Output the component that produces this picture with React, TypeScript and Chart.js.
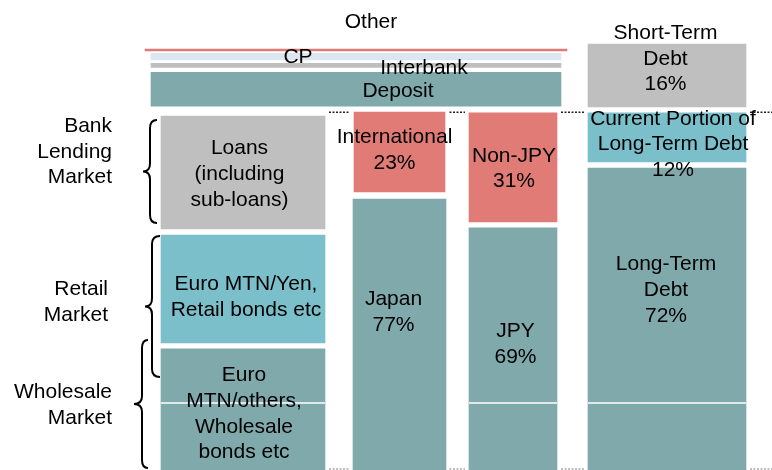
import { useEffect, useRef } from 'react';
import { Chart, registerables } from 'chart.js';

Chart.register(...registerables);

// ---------------- Data (market total = 100) ----------------
const segmentNames = [
  'Wholesale', 'Retail', 'Loans',
  'Deposit', 'Interbank', 'CP', 'Other',
  'Japan', 'International',
  'JPY', 'Non-JPY',
  'Long-Term Debt', 'Current Portion of Long-Term Debt', 'Short-Term Debt',
];
const segmentColumns = [
  'funding', 'funding', 'funding',
  'overlay', 'overlay', 'overlay', 'overlay',
  'region', 'region',
  'currency', 'currency',
  'balance', 'balance', 'balance',
];
const segmentLow = [-1, 35.2, 67.2, 101.7, 112.6, 114.65, 117.2, -1, 77.6, -1, 69.2, -1, 86.0, 101.5];
const segmentHigh = [33.5, 65.5, 98.9, 111.2, 113.7, 116.5, 117.7, 75.6, 100, 67.5, 99.8, 84.3, 99.8, 119.1];
const segmentShares: (number | null)[] = [null, null, null, null, null, null, null, 77, 23, 69, 31, 72, 12, 16];
const segmentText = [
  ['Euro', 'MTN/others,', 'Wholesale', 'bonds etc'],
  ['Euro MTN/Yen,', 'Retail bonds etc'],
  ['Loans', '(including', 'sub-loans)'],
  ['Deposit'],
  ['Interbank'],
  ['CP'],
  ['Other'],
  ['Japan'],
  ['International'],
  ['JPY'],
  ['Non-JPY'],
  ['Long-Term', 'Debt'],
  ['Current Portion of', 'Long-Term Debt'],
  ['Short-Term', 'Debt'],
];

const marketNames = [['Bank', 'Lending', 'Market'], ['Retail', 'Market'], ['Wholesale', 'Market']];
const marketLow = [68.9, 25.6, 0.06];
const marketHigh = [97.8, 65.2, 36.0];

const referenceLevels = [100, -0.2];
const splitLevel = 18.3;

// ---------------- Layout & styles ----------------
const TEAL = '#80a9ac';
const LIGHT_BLUE = '#7bbfcb';
const RED = '#e07b76';
const GREY = '#bfbfbf';
const PALE = '#dce6f1';
const FONT = '21px "Liberation Sans", Arial, sans-serif';
const LINE_H = 25.7;

const COLUMN_LAYOUT: Record<string, { center: number; width: number }> = {
  funding: { center: 243, width: 164 },
  overlay: { center: 356, width: 410 },
  region: { center: 399.5, width: 92 },
  currency: { center: 513, width: 88 },
  balance: { center: 667, width: 158 },
};

const SEGMENT_STYLE: Record<string, { color: string; width?: number; dx: number; dy: number }> = {
  'Wholesale': { color: TEAL, dx: 1, dy: 4.5 },
  'Retail': { color: LIGHT_BLUE, dx: 3, dy: 8 },
  'Loans': { color: GREY, dx: -3.5, dy: 1.5 },
  'Deposit': { color: TEAL, dx: 42, dy: 2 },
  'Interbank': { color: GREY, dx: 68, dy: 3 },
  'CP': { color: PALE, dx: -58, dy: 1 },
  'Other': { color: RED, width: 422, dx: 15, dy: -27.5 },
  'Japan': { color: TEAL, width: 93, dx: -6, dy: -22 },
  'International': { color: RED, width: 91, dx: -5, dy: -2 },
  'JPY': { color: TEAL, dx: 2.5, dy: -4.5 },
  'Non-JPY': { color: RED, dx: 1, dy: 1.5 },
  'Long-Term Debt': { color: TEAL, dx: -1, dy: -29 },
  'Current Portion of Long-Term Debt': { color: LIGHT_BLUE, dx: 6, dy: 7 },
  'Short-Term Debt': { color: GREY, dx: -1.5, dy: -16.5 },
};

const MARKET_LAYOUT = [
  { textRight: 112, dy: -19.5, spine: 150, tip: 143, hook: 157 },
  { textRight: 108, dy: -4.5, spine: 152, tip: 145, hook: 160 },
  { textRight: 112, dy: 1, spine: 142, tip: 134, hook: 148 },
];

// dotted reference lines are visible only in the gaps between the columns
const REF_LINE_COLUMNS = ['funding', 'region', 'currency', 'balance'];
const REF_LINE_END = 772;
const REF_LINE_INSET = 4;
const REF_LINE_COLORS = ['#222', '#aaa'];
const SPLIT_COLUMNS = ['funding', 'currency', 'balance'];

function drawBrace(ctx: CanvasRenderingContext2D, hookX: number, spineX: number, tipX: number, top: number, bottom: number) {
  const mid = (top + bottom) / 2;
  const r = 8;
  ctx.beginPath();
  ctx.moveTo(hookX, top);
  ctx.quadraticCurveTo(spineX, top, spineX, top + r);
  ctx.lineTo(spineX, mid - r);
  ctx.quadraticCurveTo(spineX, mid, tipX, mid);
  ctx.quadraticCurveTo(spineX, mid, spineX, mid + r);
  ctx.lineTo(spineX, bottom - r);
  ctx.quadraticCurveTo(spineX, bottom, hookX, bottom);
  ctx.stroke();
}

const diagramPlugin = {
  id: 'diagram',
  beforeDatasetsDraw(chart: any) {
    const { ctx, scales } = chart;
    const xs = scales.x;
    const ys = scales.y;
    const gaps: [number, number][] = [];
    REF_LINE_COLUMNS.forEach((c, i) => {
      const col = COLUMN_LAYOUT[c];
      const from = col.center + col.width / 2 + REF_LINE_INSET;
      const next = REF_LINE_COLUMNS[i + 1];
      const to = next
        ? COLUMN_LAYOUT[next].center - COLUMN_LAYOUT[next].width / 2 - REF_LINE_INSET
        : REF_LINE_END;
      gaps.push([from, to]);
    });
    ctx.save();
    ctx.lineWidth = 1.5;
    ctx.setLineDash([2, 1.5]);
    referenceLevels.forEach((lvl, i) => {
      const y = ys.getPixelForValue(lvl);
      ctx.strokeStyle = REF_LINE_COLORS[i];
      gaps.forEach(([a, b]) => {
        ctx.beginPath();
        ctx.moveTo(xs.getPixelForValue(a), y);
        ctx.lineTo(xs.getPixelForValue(b), y);
        ctx.stroke();
      });
    });
    ctx.restore();
  },
  afterDatasetsDraw(chart: any) {
    const { ctx, scales, chartArea } = chart;
    const xs = scales.x;
    const ys = scales.y;
    ctx.save();

    // thin white split line
    ctx.strokeStyle = '#ffffff';
    ctx.lineWidth = 1.5;
    const sy = ys.getPixelForValue(splitLevel);
    SPLIT_COLUMNS.forEach((c) => {
      const col = COLUMN_LAYOUT[c];
      ctx.beginPath();
      ctx.moveTo(xs.getPixelForValue(col.center - col.width / 2), sy);
      ctx.lineTo(xs.getPixelForValue(col.center + col.width / 2), sy);
      ctx.stroke();
    });

    // segment labels
    ctx.font = FONT;
    ctx.fillStyle = '#000';
    ctx.textAlign = 'center';
    ctx.textBaseline = 'middle';
    segmentNames.forEach((name, i) => {
      const el = chart.getDatasetMeta(i).data[0];
      if (!el) return;
      const st = SEGMENT_STYLE[name];
      const top = Math.max(Math.min(el.y, el.base), chartArea.top);
      const bottom = Math.min(Math.max(el.y, el.base), chartArea.bottom);
      const cy = (top + bottom) / 2 + st.dy;
      const cx = el.x + st.dx;
      const lines = [...segmentText[i]];
      if (segmentShares[i] !== null) lines.push(`${segmentShares[i]}%`);
      const start = cy - ((lines.length - 1) / 2) * LINE_H;
      lines.forEach((ln, k) => ctx.fillText(ln, cx, start + k * LINE_H));
    });

    // market braces and names
    ctx.strokeStyle = '#000';
    ctx.lineWidth = 2;
    ctx.textAlign = 'right';
    marketNames.forEach((lines, i) => {
      const lay = MARKET_LAYOUT[i];
      const top = ys.getPixelForValue(marketHigh[i]);
      const bottom = ys.getPixelForValue(marketLow[i]);
      drawBrace(
        ctx,
        xs.getPixelForValue(lay.hook),
        xs.getPixelForValue(lay.spine),
        xs.getPixelForValue(lay.tip),
        top,
        bottom,
      );
      const cy = (top + bottom) / 2 + lay.dy;
      const start = cy - ((lines.length - 1) / 2) * LINE_H;
      lines.forEach((ln, k) => ctx.fillText(ln, xs.getPixelForValue(lay.textRight), start + k * LINE_H));
    });
    ctx.restore();
  },
};

export default function App() {
  const canvasRef = useRef<HTMLCanvasElement | null>(null);

  useEffect(() => {
    document.body.style.margin = '0';
    const canvas = canvasRef.current;
    if (!canvas) return;

    const datasets = segmentNames.map((name, i) => {
      const st = SEGMENT_STYLE[name];
      const col = COLUMN_LAYOUT[segmentColumns[i]];
      return {
        label: name,
        data: [{ x: col.center, y: [segmentLow[i], segmentHigh[i]] }],
        backgroundColor: st.color,
        borderWidth: 0,
        barThickness: st.width ?? col.width,
        grouped: false,
      };
    });

    const chart = new Chart(canvas, {
      type: 'bar',
      data: { datasets: datasets as any },
      options: {
        animation: false,
        responsive: false,
        maintainAspectRatio: false,
        events: [],
        layout: { padding: 0 },
        plugins: {
          legend: { display: false },
          tooltip: { enabled: false },
        },
        scales: {
          x: { type: 'linear', min: 0, max: 772, display: false, offset: false },
          y: { type: 'linear', min: -0.5, max: 131.5, display: false },
        },
      },
      plugins: [diagramPlugin],
    });

    return () => chart.destroy();
  }, []);

  return (
    <div style={{ width: 772, height: 470, background: '#fff' }}>
      <canvas ref={canvasRef} width={772} height={470} style={{ display: 'block' }} />
    </div>
  );
}
